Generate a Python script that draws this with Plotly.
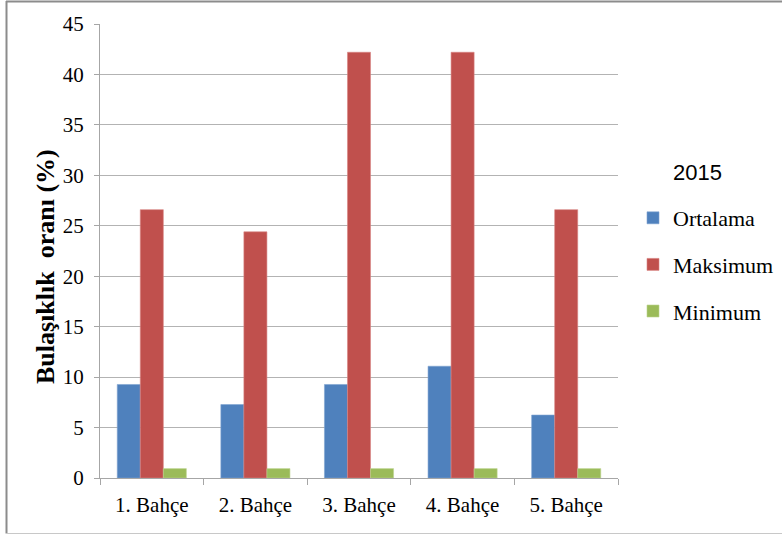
import plotly.graph_objects as go

# Gardens and infestation rates (%) for 2015
bahceler = ["1. Bahçe", "2. Bahçe", "3. Bahçe", "4. Bahçe", "5. Bahçe"]
ortalama = [9.27, 7.28, 9.27, 11.08, 6.24]
maksimum = [26.6, 24.4, 42.2, 42.2, 26.6]
minimum = [0.93, 0.93, 0.93, 0.93, 0.93]

W, H = 782, 535
L, R, T, B = 100, 164, 24, 57
PW, PH = W - L - R, H - T - B


def px_x(x):
    return (x - L) / PW


def px_y(y):
    return 1 - (y - T) / PH


serif = "Liberation Serif"
series = [
    ("Ortalama", ortalama, "#4F81BD", "#7FA2D0"),
    ("Maksimum", maksimum, "#C0504D", "#D88583"),
    ("Minimum", minimum, "#9BBB59", "#BCD38E"),
]

fig = go.Figure()
for name, vals, col, edge in series:
    fig.add_trace(go.Bar(
        x=bahceler, y=vals, name=name, legendgroup=name,
        marker=dict(color=col, line=dict(color=edge, width=0.6)),
    ))

fig.update_layout(
    width=W, height=H,
    margin=dict(l=L, r=R, t=T, b=B, pad=0, autoexpand=False),
    paper_bgcolor="white", plot_bgcolor="white",
    barmode="group", bargap=0.333, bargroupgap=0,
    font=dict(family=serif, size=20, color="#000000"),
    showlegend=True,
    legend=dict(
        x=px_x(633), y=px_y(197), xanchor="left", yanchor="top",
        traceorder="grouped", tracegroupgap=15,
        font=dict(family=serif, size=22, color="#000000"),
        bgcolor="rgba(0,0,0,0)",
    ),
    xaxis=dict(
        type="category", showgrid=False,
        showline=True, linecolor="#A6A6A6", linewidth=1,
        ticks="outside", tickson="boundaries", ticklen=6, tickcolor="#A6A6A6",
        tickfont=dict(family=serif, size=21, color="#000000"),
        ticklabelstandoff=8,
    ),
    yaxis=dict(
        range=[0, 45], dtick=5, tick0=0,
        showgrid=True, gridcolor="#B3B3B3", gridwidth=1,
        showline=True, linecolor="#A6A6A6", linewidth=1,
        ticks="outside", ticklen=5, tickcolor="#A6A6A6",
        tickfont=dict(family=serif, size=21, color="#000000"),
        ticklabelstandoff=6,
        zeroline=False,
    ),
    annotations=[
        dict(text="<b>Bulaşıklık  oranı (%)</b>", textangle=-90,
             xref="paper", yref="paper", x=px_x(45), y=px_y(267),
             xanchor="center", yanchor="middle", showarrow=False,
             font=dict(family=serif, size=26, color="#000000")),
        dict(text="2015", xref="paper", yref="paper",
             x=px_x(697), y=px_y(172), xanchor="center", yanchor="middle",
             showarrow=False,
             font=dict(family="Liberation Sans", size=22, color="#000000")),
    ],
    shapes=[
        # outer chart frame: top, left, bottom edges
        dict(type="line", xref="paper", yref="paper", x0=px_x(6), x1=px_x(790),
             y0=px_y(1.5), y1=px_y(1.5), line=dict(color="#8C8C8C", width=2)),
        dict(type="line", xref="paper", yref="paper", x0=px_x(6.5), x1=px_x(6.5),
             y0=px_y(1), y1=px_y(533.5), line=dict(color="#8C8C8C", width=2)),
        dict(type="line", xref="paper", yref="paper", x0=px_x(6), x1=px_x(790),
             y0=px_y(533.5), y1=px_y(533.5), line=dict(color="#C8C8C8", width=1)),
    ],
)

fig.write_html("out.html")
